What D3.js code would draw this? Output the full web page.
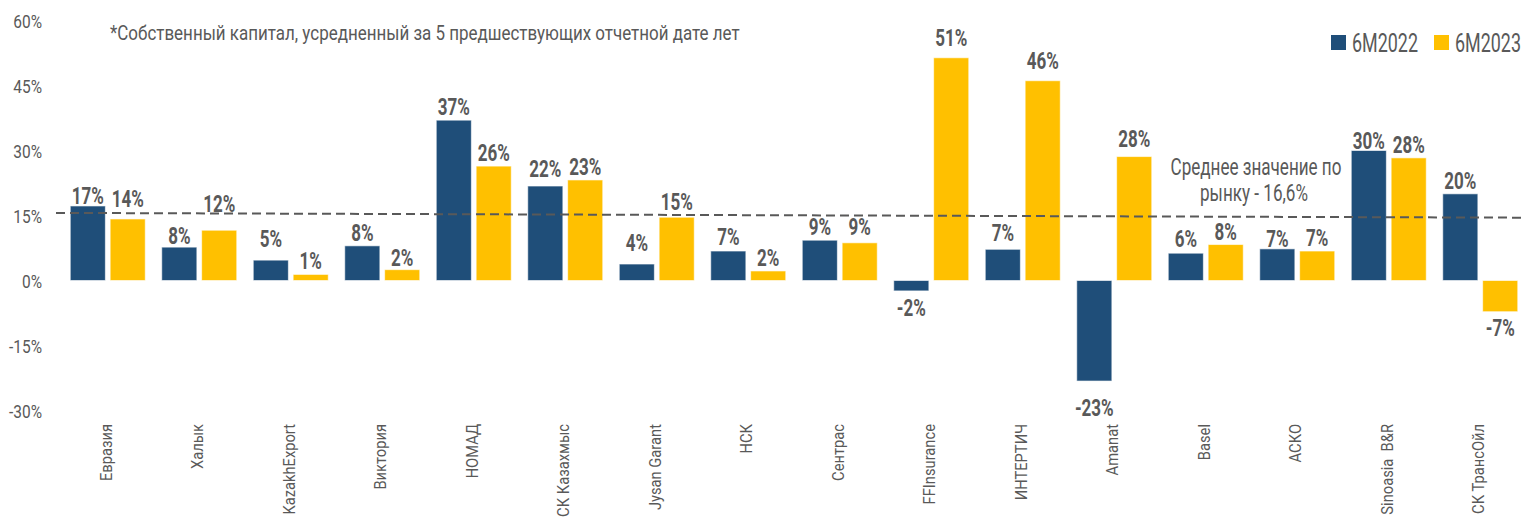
<!DOCTYPE html>
<html><head><meta charset="utf-8">
<script src="https://cdnjs.cloudflare.com/ajax/libs/d3/7.8.5/d3.min.js"></script>
<style>
body{margin:0;background:#fff;}
text{font-family:Roboto,"Noto Sans",sans-serif;}
</style></head><body>
<svg id="c" width="1523" height="521"></svg>
<script>
const categories = ["Евразия","Халык","KazakhExport","Виктория","НОМАД","СК Казахмыс","Jysan Garant","НСК","Сентрас","FFInsurance","ИНТЕРТИЧ","Amanat","Basel","АСКО","Sinoasia  B&R","СК ТрансОйл"];
const series2022 = [17.2,7.7,4.7,8.0,37.0,21.8,3.8,6.8,9.3,-2.4,7.2,-23.2,6.3,7.3,30.0,20.0];
const series2023 = [14.2,11.6,1.4,2.5,26.4,23.2,14.6,2.2,8.7,51.4,46.1,28.6,8.3,6.8,28.3,-7.2];
const labels2022 = ["17%","8%","5%","8%","37%","22%","4%","7%","9%","-2%","7%","-23%","6%","7%","30%","20%"];
const labels2023 = ["14%","12%","1%","2%","26%","23%","15%","2%","9%","51%","46%","28%","8%","7%","28%","-7%"];
const seriesNames = ["6M2022","6M2023"];
const yTicks = [-30,-15,0,15,30,45,60];
const meanLine = [15.6,14.5];
const noteText = "*Собственный капитал, усредненный за 5 предшествующих отчетной дате лет";
const meanLabel = ["Среднее значение по","рынку - 16,6%"];

// label gaps (px) between bar end and value label, per series (styling)
const gap2022 = [2,3,13,5,5,9,13,6,5,9,8,18,6,2,2,5];
const gap2023 = [12,18,5,4,5,5,7,5,8,12,12,10,5,5,5,8];

const colors = ["#1F4E79","#FFC000"];
const textColor = "#595959";
const svg = d3.select("#c");

// condensed text helper: places text via transform with horizontal squeeze
function ctext(sel, x, y, k, rot){
  return sel.append("text").attr("transform",`translate(${x},${y})${rot?" rotate("+rot+")":""} scale(${k},1)`);
}

const y = d3.scaleLinear().domain([-30,60]).range([410.5,20.5]);
const x0 = d3.scaleBand().domain(categories).range([62,1526]).padding(0);
const x1 = d3.scaleBand().domain(seriesNames).range([8.25, x0.bandwidth()-8.25]).paddingInner(0.12);

// y axis labels (via axis generator, then condensed)
const yAxis = d3.axisLeft(y).tickValues(yTicks).tickFormat(d=>d+"%").tickSize(0).tickPadding(0);
const ya = svg.append("g").attr("transform","translate(42,0)").call(yAxis);
ya.select(".domain").remove();
ya.selectAll(".tick text").attr("font-size",18).attr("fill",textColor).style("font-family",null)
  .attr("dy",null).attr("x",0).attr("y",0).attr("transform","translate(0,7.3) scale(0.86,1)");

// note
const nt = ctext(svg,110,40,1).attr("font-size",21).attr("fill",textColor).text(noteText);
nt.attr("transform",`translate(110,40) scale(${630/nt.node().getComputedTextLength()},1)`);

// bars
const data = categories.map((c,i)=>({c, i, v:[series2022[i],series2023[i]], l:[labels2022[i],labels2023[i]], gp:[gap2022[i],gap2023[i]]}));
const g = svg.selectAll("g.cat").data(data).join("g").attr("class","cat")
  .attr("transform",d=>`translate(${x0(d.c)},0)`);
g.selectAll("rect").data(d=>d.v.map((v,j)=>({v,j,s:seriesNames[j]}))).join("rect")
  .attr("x",d=>x1(d.s)).attr("width",x1.bandwidth())
  .attr("y",d=>y(Math.max(0,d.v))).attr("height",d=>Math.abs(y(d.v)-y(0)))
  .attr("fill",d=>colors[d.j]).attr("stroke","#ffffff").attr("stroke-opacity",0.6).attr("stroke-width",1);

// mean dashed line
svg.append("line").attr("x1",56).attr("x2",1523).attr("y1",y(meanLine[0])).attr("y2",y(meanLine[1]))
  .attr("stroke","#595959").attr("stroke-width",2).attr("stroke-dasharray","9,5");

// value labels
g.each(function(d){
  const gg = d3.select(this);
  d.v.forEach((v,j)=>{
    const cx = x1(seriesNames[j])+x1.bandwidth()/2;
    const yy = v>=0 ? y(v)-d.gp[j] : y(v)+d.gp[j]+16.5;
    ctext(gg,cx,yy,0.74).attr("text-anchor","middle").attr("font-size",23).attr("font-weight","bold")
      .attr("fill",textColor).text(d.l[j]);
  });
  ctext(gg,x0.bandwidth()/2+4,424,0.92,-90).attr("text-anchor","end").attr("font-size",16)
    .attr("fill",textColor).style("white-space","pre").text(d.c);
});

// mean annotation
const mx = [1256,1254], my=[175,200.5], mw=[171,108];
meanLabel.forEach((t,i)=>{
  const tt = ctext(svg,mx[i],my[i],1).attr("text-anchor","middle").attr("font-size",24).attr("fill",textColor).text(t);
  tt.attr("transform",`translate(${mx[i]},${my[i]}) scale(${mw[i]/tt.node().getComputedTextLength()},1)`);
});

// legend
const lx = [1331,1434];
seriesNames.forEach((s,i)=>{
  svg.append("rect").attr("x",lx[i]).attr("y",35).attr("width",15).attr("height",15).attr("fill",colors[i]);
  const tt = ctext(svg,lx[i]+21,52.3,1).attr("font-size",25).attr("fill",textColor).text(s);
  tt.attr("transform",`translate(${lx[i]+21},52.3) scale(${66/tt.node().getComputedTextLength()},1)`);
});
</script></body></html>
